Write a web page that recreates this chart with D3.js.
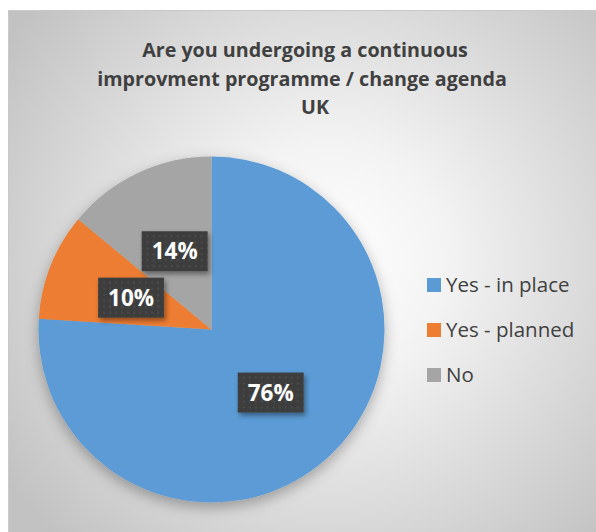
<!DOCTYPE html>
<html>
<head>
<meta charset="utf-8">
<script src="https://cdn.jsdelivr.net/npm/d3@7"></script>
<style>
  html, body { margin: 0; padding: 0; background: #ffffff; }
  svg { display: block; }
</style>
</head>
<body>
<div id="chart"></div>
<script>
// Survey answers, UK
const categories = ["Yes - in place", "Yes - planned", "No"];
const shares = [76, 10, 14];
const colors = ["#5B9BD5", "#ED7D31", "#A5A5A5"];
const titleLines = ["Are you undergoing a continuous", "improvment programme / change agenda", "UK"];

const W = 596, H = 532;
const svg = d3.select("#chart").append("svg").attr("width", W).attr("height", H);
const defs = svg.append("defs");

// chart-area radial fill
const bg = defs.append("radialGradient").attr("id", "bgGrad")
  .attr("gradientUnits", "userSpaceOnUse")
  .attr("cx", 330).attr("cy", 260).attr("r", 390);
bg.append("stop").attr("offset", "0%").attr("stop-color", "#ffffff");
bg.append("stop").attr("offset", "30%").attr("stop-color", "#f3f3f3");
bg.append("stop").attr("offset", "100%").attr("stop-color", "#c2c2c2");

// soft shadow under the pie
const pieShadow = defs.append("filter").attr("id", "pieShadow")
  .attr("x", "-20%").attr("y", "-20%").attr("width", "140%").attr("height", "140%");
pieShadow.append("feDropShadow").attr("dx", 0).attr("dy", 5).attr("stdDeviation", 7)
  .attr("flood-color", "#000").attr("flood-opacity", 0.3);

// shadow for the value boxes
const boxShadow = defs.append("filter").attr("id", "boxShadow")
  .attr("x", "-30%").attr("y", "-30%").attr("width", "160%").attr("height", "160%");
boxShadow.append("feDropShadow").attr("dx", 2).attr("dy", 3).attr("stdDeviation", 2.5)
  .attr("flood-color", "#000").attr("flood-opacity", 0.4);

// dotted fill for the value boxes
const dots = defs.append("pattern").attr("id", "dots")
  .attr("patternUnits", "userSpaceOnUse").attr("width", 6).attr("height", 6);
dots.append("rect").attr("width", 6).attr("height", 6).attr("fill", "#3e3e3e");
dots.append("rect").attr("x", 2).attr("y", 2).attr("width", 2).attr("height", 2).attr("fill", "#4a4a4a");

// chart area
svg.append("rect").attr("x", 8.5).attr("y", 10.5).attr("width", W).attr("height", H)
  .attr("fill", "url(#bgGrad)").attr("stroke", "#c9c9c9").attr("stroke-width", 1);

// title
const title = svg.append("text")
  .attr("font-family", "'Open Sans', sans-serif")
  .attr("font-weight", "bold").attr("font-size", 19.7)
  .attr("fill", "#404040").attr("text-anchor", "middle");
const titleX = [305, 302, 315];
titleLines.forEach((t, i) => {
  title.append("tspan").attr("x", titleX[i]).attr("y", 57 + i * 28.5).text(t);
});

// pie
const cx = 211.5, cy = 329.5, R = 173;
const pie = d3.pie().sort(null).value(d => d)(shares);
const arc = d3.arc().innerRadius(0).outerRadius(R);
const labelArc = d3.arc().innerRadius(R * 0.5).outerRadius(R * 0.5);

const g = svg.append("g").attr("transform", `translate(${cx},${cy})`);
g.append("g").attr("filter", "url(#pieShadow)")
  .selectAll("path").data(pie).join("path")
  .attr("d", arc).attr("fill", (d, i) => colors[i]);

// value labels
const labels = g.selectAll("g.lbl").data(pie).join("g").attr("class", "lbl")
  .attr("transform", d => `translate(${labelArc.centroid(d)})`);
labels.append("rect")
  .attr("x", -33).attr("y", -20).attr("width", 66).attr("height", 40)
  .attr("fill", "url(#dots)").attr("filter", "url(#boxShadow)");
labels.append("text")
  .attr("text-anchor", "middle").attr("dy", "0.36em")
  .attr("font-family", "'Open Sans', sans-serif").attr("font-weight", "bold")
  .attr("font-size", 22.5).attr("fill", "#ffffff")
  .text(d => d.data + "%");

// legend
const legend = svg.append("g").attr("transform", "translate(427,285)");
const items = legend.selectAll("g").data(categories).join("g")
  .attr("transform", (d, i) => `translate(0,${i * 45})`);
items.append("rect").attr("x", 0).attr("y", -7).attr("width", 14).attr("height", 14)
  .attr("fill", (d, i) => colors[i]);
items.append("text").attr("x", 19).attr("dy", "0.36em")
  .attr("font-family", "'Open Sans', sans-serif").attr("font-size", 20.5)
  .attr("fill", "#404040").text(d => d);
</script>
</body>
</html>
